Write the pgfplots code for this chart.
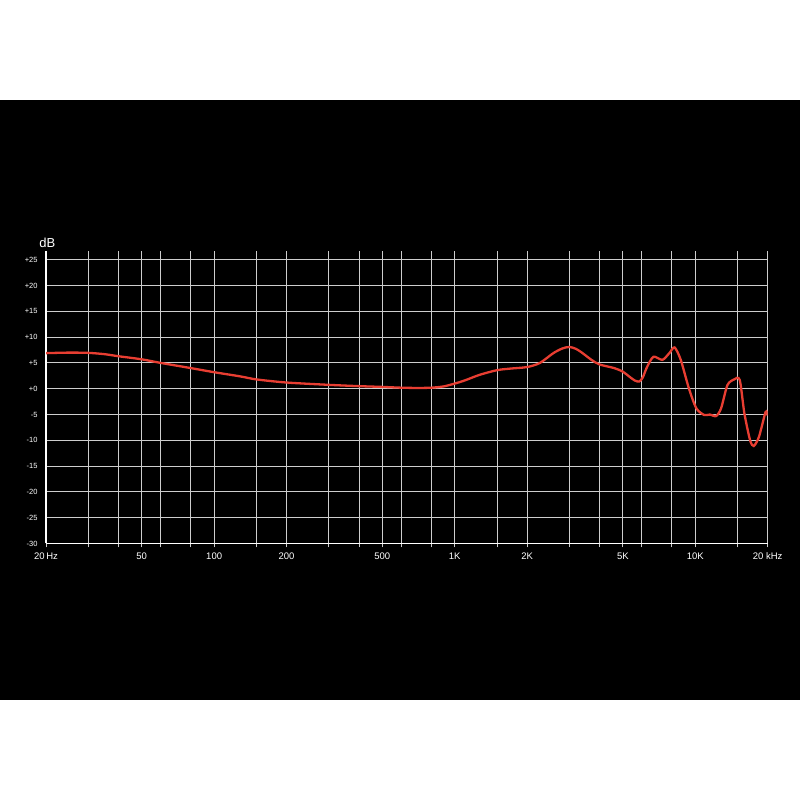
\documentclass[border=0pt]{standalone}
\usepackage{pgfplots}
\pgfplotsset{compat=1.18}
\usepackage{fontspec}
\setmainfont{Liberation Sans}
\definecolor{curvered}{RGB}{232,62,50}
\definecolor{gridgray}{RGB}{205,205,205}
\begin{document}
\begin{tikzpicture}[x=1pt,y=1pt]
\fill[white] (0,0) rectangle (800,800);
\fill[black] (0,100) rectangle (800,700);
\begin{axis}[
  at={(46pt,256.5pt)}, anchor=south west,
  scale only axis, width=721.7pt, height=292pt,
  xmode=log, xmin=20, xmax=20000, ymin=-30, ymax=26.6,
  axis x line*=bottom, axis y line*=left,
  axis line style={white, line width=1.8pt, -},
  xtick={20,30,40,50,60,80,100,150,200,300,400,500,600,800,1000,1500,2000,3000,4000,5000,6000,8000,10000,15000,20000},
  xticklabels={20\,Hz,,,50,,,100,,200,,,500,,,1K,,2K,,,5K,,,10K,,20 kHz},
  ytick={-30,-25,-20,-15,-10,-5,0,5,10,15,20,25},
  yticklabels={-30,-25,-20,-15,-10,-5,+0,+5,+10,+15,+20,+25},
  xmajorgrids, ymajorgrids,
  major grid style={gridgray, line width=1pt},
  x tick style={gridgray, line width=1pt},
  tick align=outside, major tick length=4pt,
  y tick style={draw=none},
  xminorticks=false, minor xtick={},
  xticklabel style={white, font=\fontsize{9.5}{9.5}\selectfont, yshift=-2pt},
  yticklabel style={white, font=\fontsize{7.5}{7.5}\selectfont, xshift=-1pt},
  clip=true,
]
\addplot[curvered, line width=2.3pt, smooth, tension=0.45] coordinates {
(20,6.9) (25,7.0) (30,6.95) (35,6.7) (40,6.3) (50,5.7) (60,5.0) (80,4.0)
(100,3.2) (128,2.4) (150,1.8) (200,1.2) (300,0.75) (400,0.5) (500,0.35)
(600,0.2) (700,0.15) (800,0.2) (900,0.45) (1000,1.0) (1100,1.6) (1270,2.7)
(1500,3.6) (1700,3.9) (2000,4.2) (2260,5.0) (2570,6.9) (2800,7.8) (3000,8.1)
(3200,7.7) (3400,6.9) (3700,5.6) (4000,4.7) (4600,4.0) (5000,3.3) (5300,2.4)
(5600,1.6) (5850,1.4) (6050,2.2) (6300,4.2) (6700,6.2) (7300,5.6) (7800,6.9) (8200,8.0) (8700,5.6)
(9400,0.1) (10100,-3.8) (10900,-5.1) (11500,-5.0) (12200,-5.3) (12800,-3.8)
(13600,0.7) (14500,1.8) (15300,1.7) (16000,-4.8) (16900,-10.0) (17500,-11.1)
(18400,-9.3) (19600,-4.5) (20000,-5.2)
};
\end{axis}
\node[white, font=\fontsize{13}{13}\selectfont] at (47.3,557.3) {dB};
\end{tikzpicture}
\end{document}
